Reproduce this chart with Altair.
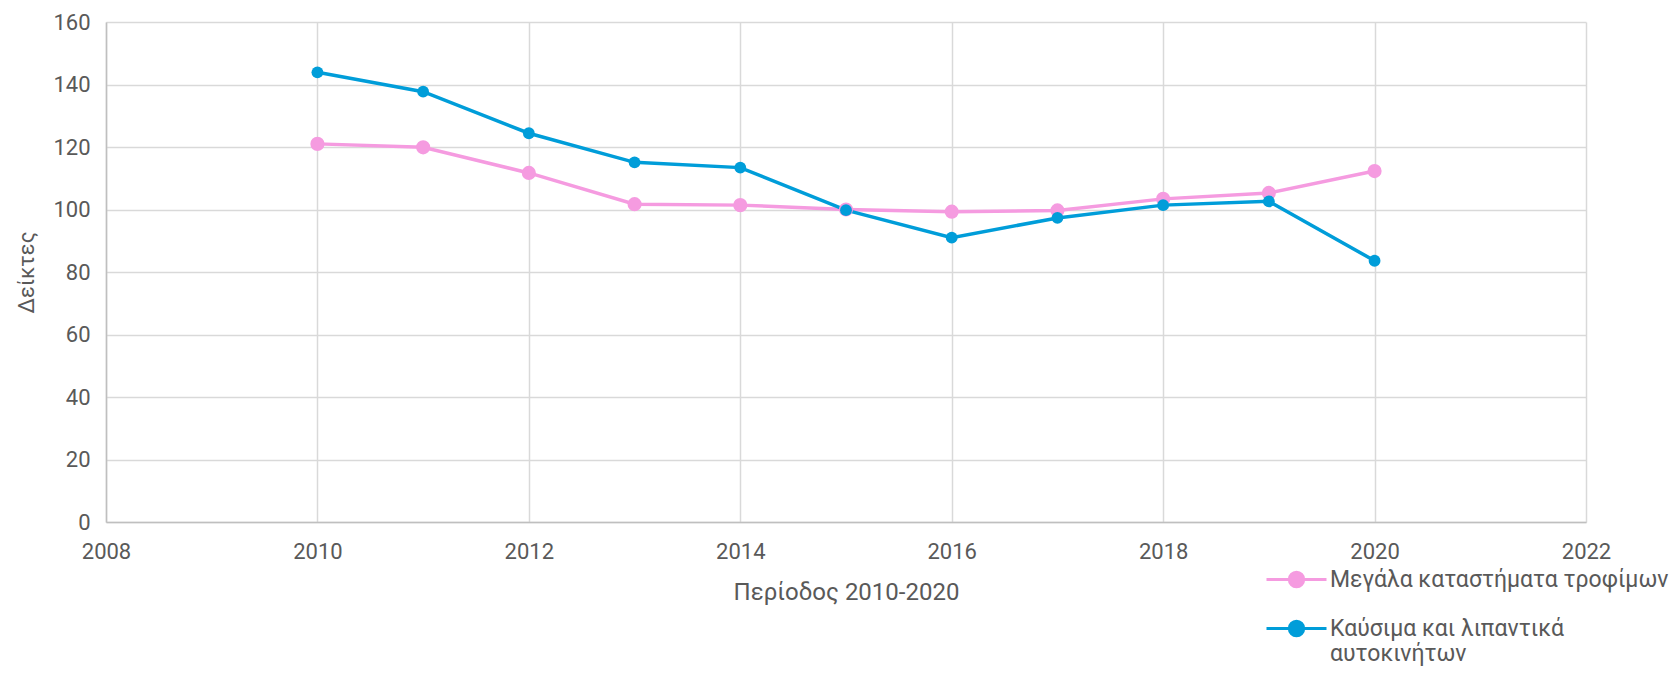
import altair as alt
import pandas as pd

years = [2010, 2011, 2012, 2013, 2014, 2015, 2016, 2017, 2018, 2019, 2020]
food = [121.0, 119.9, 111.7, 101.7, 101.4, 100.0, 99.3, 99.7, 103.4, 105.3, 112.3]
fuel = [143.9, 137.7, 124.4, 115.1, 113.4, 99.8, 91.0, 97.3, 101.4, 102.6, 83.6]
series = ["Μεγάλα καταστήματα τροφίμων", "Καύσιμα και λιπαντικά αυτοκινήτων"]
colors = ["#F59BE0", "#009DD9"]
x_ticks = [2008, 2010, 2012, 2014, 2016, 2018, 2020, 2022]
y_ticks = [0, 20, 40, 60, 80, 100, 120, 140, 160]

rows = []
for name, vals in zip(series, [food, fuel]):
    for yr, v in zip(years, vals):
        rows.append({"year": yr, "value": v, "series": name})
df = pd.DataFrame(rows)

FONT = "Roboto"
TXT = "#595959"

x = alt.X("year:Q",
          scale=alt.Scale(domain=[2008, 2022], nice=False, zero=False),
          axis=alt.Axis(values=x_ticks, format="d", title="Περίοδος 2010-2020",
                        titleFontSize=24, labelPadding=19, titlePadding=18,
                        labelFlush=False))
y = alt.Y("value:Q",
          scale=alt.Scale(domain=[0, 160], nice=False),
          axis=alt.Axis(values=y_ticks, title="Δείκτες", labelPadding=16, titlePadding=14))

legend = alt.Legend(
    orient="none", legendX=1159, legendY=526, title=None,
    labelExpr="datum.label == 'Καύσιμα και λιπαντικά αυτοκινήτων' ? ['Καύσιμα και λιπαντικά', 'αυτοκινήτων'] : datum.label",
)
color = alt.Color("series:N", scale=alt.Scale(domain=series, range=colors),
                  sort=series, legend=legend)

base = alt.Chart(df)
lines = base.mark_line(strokeWidth=3.5).encode(x=x, y=y, color=color, detail="series:N")
points_food = base.transform_filter(alt.datum.series == series[0]).mark_point(
    filled=True, opacity=1, size=200).encode(x=x, y=y, color=color)
points_fuel = base.transform_filter(alt.datum.series == series[1]).mark_point(
    filled=True, opacity=1, size=140).encode(x=x, y=y, color=color)

chart = alt.layer(lines, points_food, points_fuel).properties(
    width=1480, height=500,
    autosize=alt.AutoSizeParams(type="none"),
    padding={"left": 98, "top": 14, "right": 86, "bottom": 145},
).configure_view(strokeWidth=0).configure_axis(
    labelFont=FONT, labelFontSize=22, labelColor=TXT,
    titleFont=FONT, titleFontSize=22, titleColor=TXT, titleFontWeight="normal",
    gridColor="#D9D9D9", gridWidth=1.5, domainColor="#BFBFBF", domainWidth=1.5,
    ticks=False,
).configure_legend(
    symbolType="M-1,0H1M-0.24,0A0.24,0.24 0 1,1 0.24,0A0.24,0.24 0 1,1 -0.24,0Z",
    symbolSize=3600, symbolStrokeWidth=3, labelFont=FONT, labelFontSize=23,
    labelColor=TXT, labelLimit=500, labelOffset=2, rowPadding=4,
)

chart.save("out.html", embed_options={"renderer": "svg", "actions": False})
